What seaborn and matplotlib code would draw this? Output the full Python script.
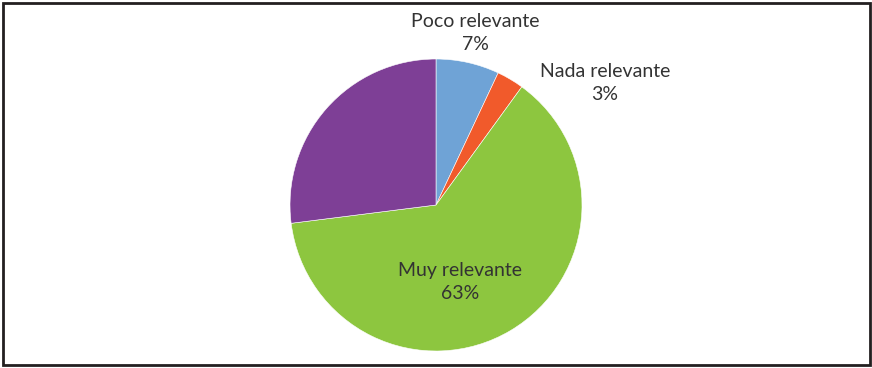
import matplotlib
matplotlib.use("Agg")
import matplotlib.pyplot as plt
from matplotlib.patches import Rectangle
import seaborn as sns

# Survey answers, in the order they are drawn clockwise from 12 o'clock
categories = ["Poco relevante", "Nada relevante", "Muy relevante", "Relevante"]
shares = [7, 3, 63, 27]
colors = ["#6FA3D6", "#F15A2B", "#8DC63F", "#7E3F96"]
label_texts = ["Poco relevante\n7%", "Nada relevante\n3%", "Muy relevante\n63%", ""]

sns.set_theme(style="white")
plt.rcParams["font.family"] = ["Lato", "DejaVu Sans"]

W, H = 872, 368
fig = plt.figure(figsize=(W / 100, H / 100), dpi=100)
ax = fig.add_axes([0, 0, 1, 1])

wedges, _ = ax.pie(
    shares,
    colors=colors,
    startangle=90,
    counterclock=False,
    radius=1.0,
    wedgeprops=dict(linewidth=0.4, edgecolor="white"),
)

# map pixel layout: pie centred at (436, 205) px with a 146 px radius
cx, cy, r = 436, 205, 146
ax.set_xlim(-cx / r, (W - cx) / r)
ax.set_ylim(-(H - cy) / r, cy / r)
ax.set_aspect("auto")
ax.axis("off")

def px(x, y):
    return (x - cx) / r, (cy - y) / r

label_pos = [px(475, 33), px(605, 83), px(460, 282), None]
for text, pos in zip(label_texts, label_pos):
    if pos is None or not text:
        continue
    ax.text(pos[0], pos[1], text, ha="center", va="center",
            fontsize=14, color="#333333", linespacing=1.38)

# dark frame around the chart area
fig.patches.append(Rectangle((2.5 / W, 3.5 / H), (W - 5) / W, (H - 6) / H,
                             transform=fig.transFigure, fill=False,
                             edgecolor="#231F20", linewidth=2.0))

fig.savefig("out.png", dpi=100)
